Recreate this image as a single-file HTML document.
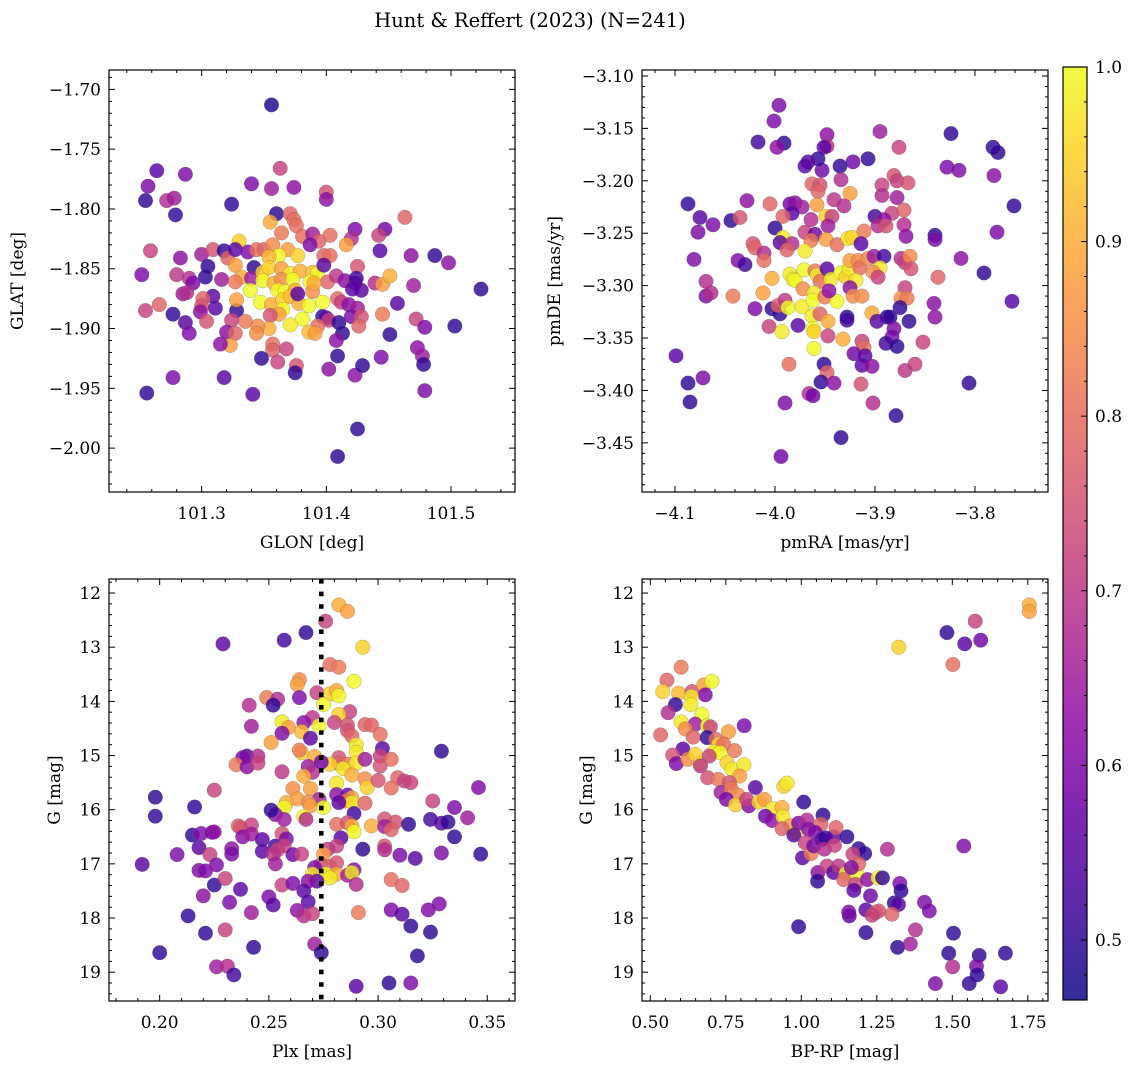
<!DOCTYPE html>
<html><head><meta charset="utf-8"><title>Hunt & Reffert (2023)</title>
<style>
html,body{margin:0;padding:0;background:#fff;}
svg{display:block;font-family:"DejaVu Serif","Liberation Serif",serif;}
</style></head>
<body>
<svg id="fig" width="1136" height="1067" viewBox="0 0 1136 1067" xmlns="http://www.w3.org/2000/svg">
<defs>
<linearGradient id="cbgrad" x1="0" y1="1" x2="0" y2="0"></linearGradient>
<clipPath id="clip1"><rect x="109" y="70" width="406" height="422"/></clipPath>
<clipPath id="clip2"><rect x="642" y="70" width="406" height="422"/></clipPath>
<clipPath id="clip3"><rect x="109" y="579" width="406" height="422"/></clipPath>
<clipPath id="clip4"><rect x="642" y="579" width="406" height="422"/></clipPath>
</defs>
<text x="530" y="27" text-anchor="middle" font-size="19.5">Hunt &amp; Reffert (2023) (N=241)</text>
</svg>
<script>
// ---------- data ----------
const p1Lon=[101.356,101.363,101.264,101.287,101.257,101.255,101.272,101.278,101.279,101.324,101.340,101.356,101.374,101.400,101.400,101.360,101.371,101.355,101.374,101.376,101.364,101.381,101.389,101.403,101.394,101.387,101.423,101.420,101.447,101.442,101.463,101.416,101.443,101.468,101.487,101.498,101.524,101.259,101.283,101.300,101.305,101.303,101.309,101.318,101.321,101.330,101.327,101.337,101.344,101.350,101.357,101.369,101.362,101.377,101.354,101.342,101.327,101.332,101.340,101.316,101.252,101.280,101.290,101.293,101.349,101.354,101.364,101.371,101.379,101.389,101.393,101.398,101.403,101.398,101.349,101.358,101.364,101.373,101.387,101.339,101.327,101.361,101.367,101.375,101.389,101.401,101.408,101.415,101.423,101.425,101.424,101.439,101.445,101.451,101.470,101.428,101.421,101.285,101.288,101.309,101.301,101.300,101.266,101.255,101.277,101.287,101.290,101.311,101.299,101.304,101.328,101.328,101.347,101.356,101.365,101.365,101.371,101.378,101.386,101.397,101.390,101.377,101.409,101.412,101.418,101.425,101.457,101.397,101.400,101.402,101.410,101.420,101.428,101.426,101.445,101.472,101.479,101.503,101.451,101.413,101.408,101.393,101.386,101.391,101.381,101.371,101.362,101.355,101.354,101.345,101.344,101.335,101.324,101.320,101.327,101.323,101.315,101.357,101.357,101.368,101.348,101.361,101.376,101.375,101.409,101.402,101.423,101.429,101.444,101.473,101.477,101.478,101.479,101.277,101.256,101.318,101.341,101.425,101.409];
const p1Lat=[-1.713,-1.766,-1.768,-1.771,-1.781,-1.793,-1.793,-1.791,-1.805,-1.796,-1.779,-1.783,-1.782,-1.786,-1.792,-1.804,-1.804,-1.811,-1.809,-1.814,-1.820,-1.823,-1.821,-1.822,-1.827,-1.830,-1.817,-1.825,-1.817,-1.822,-1.807,-1.830,-1.835,-1.839,-1.839,-1.845,-1.867,-1.835,-1.841,-1.838,-1.848,-1.857,-1.834,-1.835,-1.841,-1.827,-1.834,-1.836,-1.834,-1.834,-1.830,-1.834,-1.839,-1.839,-1.840,-1.849,-1.847,-1.857,-1.858,-1.859,-1.855,-1.855,-1.858,-1.862,-1.853,-1.849,-1.850,-1.854,-1.852,-1.853,-1.854,-1.839,-1.839,-1.847,-1.860,-1.862,-1.859,-1.859,-1.861,-1.868,-1.861,-1.868,-1.869,-1.868,-1.869,-1.861,-1.856,-1.860,-1.862,-1.848,-1.858,-1.862,-1.863,-1.856,-1.864,-1.868,-1.867,-1.871,-1.870,-1.873,-1.875,-1.881,-1.880,-1.885,-1.888,-1.895,-1.904,-1.883,-1.886,-1.894,-1.885,-1.876,-1.878,-1.880,-1.876,-1.884,-1.873,-1.879,-1.881,-1.878,-1.862,-1.871,-1.875,-1.878,-1.880,-1.883,-1.879,-1.890,-1.891,-1.893,-1.895,-1.890,-1.890,-1.898,-1.888,-1.892,-1.899,-1.898,-1.905,-1.904,-1.910,-1.898,-1.903,-1.904,-1.892,-1.897,-1.888,-1.889,-1.900,-1.898,-1.904,-1.894,-1.893,-1.903,-1.904,-1.914,-1.913,-1.913,-1.918,-1.917,-1.925,-1.928,-1.931,-1.937,-1.923,-1.934,-1.939,-1.931,-1.924,-1.916,-1.923,-1.930,-1.952,-1.941,-1.954,-1.941,-1.955,-1.984,-2.007];
const p1Prob=[0.48,0.72,0.55,0.6,0.6,0.5,0.68,0.65,0.5,0.5,0.6,0.65,0.62,0.75,0.62,0.5,0.78,0.9,0.8,0.8,0.82,0.8,0.65,0.8,0.78,0.6,0.6,0.68,0.58,0.72,0.78,0.88,0.55,0.62,0.5,0.62,0.5,0.72,0.62,0.65,0.5,0.5,0.75,0.5,0.78,0.95,0.55,0.6,0.8,0.78,0.85,0.88,1.0,0.95,0.92,0.5,0.88,0.9,0.65,0.65,0.6,0.7,0.68,0.6,0.95,0.95,0.88,0.98,0.9,0.92,1.0,0.78,0.8,0.55,1.0,0.9,0.85,1.0,1.0,1.0,0.82,1.0,1.0,0.9,0.85,0.78,0.7,0.62,0.65,0.75,0.52,0.68,0.88,0.9,0.65,0.55,0.55,0.65,0.68,0.55,0.78,0.75,0.78,0.72,0.5,0.55,0.6,0.55,0.62,0.75,0.5,0.88,1.0,0.9,0.95,1.0,0.92,0.9,1.0,1.0,0.9,0.55,0.78,0.72,0.62,0.65,0.55,0.5,0.55,0.72,0.5,0.6,0.75,0.78,0.82,0.72,0.6,0.5,0.5,0.5,0.62,0.8,0.92,0.88,1.0,0.98,0.88,0.75,0.9,0.85,0.85,0.82,0.72,0.62,0.78,0.88,0.62,0.8,0.78,0.72,0.5,0.72,0.75,0.5,0.5,0.62,0.62,0.5,0.6,0.62,0.65,0.5,0.6,0.6,0.5,0.55,0.55,0.5,0.5];

const p2PmRA=[-3.996,-4.001,-4.017,-3.991,-3.998,-3.948,-3.948,-3.951,-3.895,-3.824,-3.782,-3.777,-3.876,-3.907,-3.922,-3.935,-3.953,-3.957,-3.967,-3.970,-3.828,-3.816,-3.781,-3.761,-3.778,-4.087,-4.075,-4.077,-4.062,-4.044,-4.035,-4.028,-4.005,-3.985,-3.980,-3.973,-3.983,-3.963,-3.955,-3.957,-3.934,-3.925,-3.941,-3.931,-3.958,-3.949,-3.943,-3.964,-3.947,-3.992,-4.000,-3.992,-3.995,-3.983,-3.988,-3.970,-3.960,-3.964,-3.949,-3.938,-3.927,-3.923,-3.911,-3.914,-3.893,-3.893,-3.881,-3.878,-3.867,-3.878,-3.883,-3.871,-3.900,-3.891,-3.897,-3.889,-3.871,-3.869,-3.840,-3.840,-3.814,-3.791,-3.763,-3.837,-3.841,-3.840,-3.852,-3.860,-3.870,-3.806,-4.022,-4.020,-4.011,-4.011,-4.037,-4.030,-4.081,-4.069,-4.069,-4.064,-4.042,-4.012,-4.003,-4.020,-4.003,-3.995,-3.997,-3.990,-3.987,-3.973,-3.985,-3.982,-3.980,-3.971,-3.970,-3.960,-3.958,-3.948,-3.955,-3.944,-3.934,-3.929,-3.926,-3.925,-3.917,-3.915,-3.919,-3.907,-3.901,-3.891,-3.895,-3.902,-3.897,-3.874,-3.870,-3.865,-3.864,-3.870,-3.874,-3.868,-3.875,-3.903,-3.888,-3.885,-3.898,-3.866,-3.881,-3.883,-3.889,-3.878,-3.972,-3.961,-3.962,-3.950,-3.938,-3.946,-3.925,-3.922,-3.913,-3.928,-3.928,-3.963,-3.955,-3.947,-3.962,-3.961,-3.977,-4.006,-3.993,-3.947,-3.932,-3.961,-3.913,-3.911,-3.921,-3.910,-3.913,-3.903,-3.986,-3.951,-3.948,-3.954,-3.941,-3.914,-3.966,-3.962,-3.990,-3.902,-3.879,-3.934,-3.994,-4.099,-4.087,-4.072,-4.085];
const p2PmDE=[-3.128,-3.143,-3.163,-3.164,-3.168,-3.156,-3.167,-3.168,-3.153,-3.155,-3.168,-3.173,-3.168,-3.179,-3.182,-3.186,-3.190,-3.179,-3.182,-3.186,-3.187,-3.190,-3.195,-3.224,-3.249,-3.222,-3.235,-3.249,-3.242,-3.238,-3.235,-3.219,-3.222,-3.222,-3.221,-3.225,-3.231,-3.203,-3.204,-3.210,-3.199,-3.212,-3.218,-3.224,-3.223,-3.234,-3.234,-3.237,-3.243,-3.234,-3.245,-3.254,-3.259,-3.260,-3.266,-3.249,-3.251,-3.257,-3.256,-3.261,-3.255,-3.254,-3.248,-3.260,-3.204,-3.214,-3.195,-3.200,-3.202,-3.216,-3.231,-3.228,-3.234,-3.237,-3.243,-3.243,-3.242,-3.253,-3.252,-3.256,-3.274,-3.288,-3.315,-3.292,-3.317,-3.330,-3.354,-3.375,-3.381,-3.393,-3.260,-3.264,-3.269,-3.276,-3.276,-3.280,-3.275,-3.296,-3.310,-3.307,-3.310,-3.307,-3.293,-3.322,-3.322,-3.327,-3.319,-3.314,-3.321,-3.320,-3.289,-3.294,-3.295,-3.285,-3.267,-3.286,-3.290,-3.284,-3.296,-3.294,-3.288,-3.292,-3.284,-3.276,-3.276,-3.283,-3.295,-3.274,-3.272,-3.272,-3.283,-3.287,-3.292,-3.274,-3.278,-3.272,-3.284,-3.302,-3.312,-3.312,-3.321,-3.326,-3.330,-3.330,-3.334,-3.334,-3.341,-3.349,-3.355,-3.358,-3.303,-3.307,-3.314,-3.311,-3.315,-3.305,-3.302,-3.310,-3.310,-3.330,-3.333,-3.329,-3.327,-3.334,-3.341,-3.344,-3.338,-3.339,-3.344,-3.348,-3.351,-3.360,-3.353,-3.359,-3.365,-3.367,-3.376,-3.377,-3.375,-3.375,-3.383,-3.392,-3.393,-3.394,-3.403,-3.405,-3.412,-3.412,-3.424,-3.445,-3.463,-3.367,-3.393,-3.388,-3.411];
const p2Prob=[0.6,0.6,0.52,0.5,0.62,0.62,0.68,0.55,0.65,0.5,0.5,0.5,0.72,0.5,0.58,0.5,0.58,0.5,0.55,0.55,0.6,0.6,0.62,0.5,0.6,0.5,0.55,0.6,0.6,0.5,0.75,0.62,0.78,0.58,0.62,0.65,0.55,0.78,0.75,0.78,0.68,0.88,0.7,0.68,0.88,0.95,0.72,0.68,0.65,0.78,0.5,0.98,0.55,0.68,0.78,0.72,0.58,0.82,0.88,0.8,0.98,0.95,0.82,0.55,0.72,0.68,0.75,0.72,0.75,0.65,0.72,0.78,0.52,0.62,0.68,0.75,0.68,0.62,0.5,0.6,0.62,0.5,0.55,0.78,0.62,0.62,0.72,0.72,0.7,0.5,0.75,0.78,0.68,0.8,0.6,0.52,0.6,0.68,0.6,0.68,0.82,0.88,0.9,0.6,0.5,0.5,0.78,0.7,1.0,0.98,0.98,0.98,1.0,1.0,0.98,0.82,0.98,0.55,0.8,0.98,1.0,0.95,0.98,0.88,0.85,0.8,0.98,0.85,0.65,0.52,0.98,0.85,0.72,0.68,0.72,0.85,0.75,0.72,0.85,0.82,0.5,0.9,0.5,0.5,0.55,0.5,0.6,0.6,0.52,0.5,0.85,0.98,1.0,0.82,1.0,0.62,0.62,0.85,0.85,0.5,0.52,0.98,0.78,0.9,1.0,0.95,0.55,0.72,0.98,0.72,0.9,1.0,0.72,0.8,0.58,0.55,0.55,0.62,0.8,0.5,0.78,0.5,0.62,0.75,0.68,0.58,0.6,0.68,0.5,0.5,0.58,0.55,0.5,0.6,0.5];

const p3Plx=[0.282,0.286,0.276,0.267,0.257,0.229,0.293,0.278,0.282,0.264,0.263,0.289,0.272,0.278,0.281,0.282,0.264,0.249,0.254,0.252,0.241,0.275,0.287,0.282,0.270,0.266,0.280,0.256,0.259,0.273,0.242,0.256,0.265,0.269,0.286,0.286,0.294,0.297,0.288,0.301,0.251,0.290,0.302,0.265,0.264,0.271,0.290,0.282,0.282,0.286,0.290,0.278,0.284,0.288,0.294,0.301,0.301,0.306,0.268,0.270,0.266,0.274,0.240,0.245,0.238,0.235,0.240,0.245,0.256,0.329,0.294,0.295,0.300,0.309,0.312,0.315,0.306,0.281,0.261,0.269,0.281,0.286,0.288,0.285,0.288,0.294,0.282,0.273,0.263,0.268,0.269,0.275,0.258,0.257,0.253,0.251,0.257,0.266,0.267,0.289,0.281,0.286,0.288,0.289,0.297,0.303,0.308,0.303,0.306,0.314,0.324,0.325,0.335,0.341,0.346,0.329,0.332,0.335,0.347,0.329,0.317,0.310,0.303,0.303,0.293,0.283,0.281,0.277,0.275,0.274,0.278,0.281,0.281,0.276,0.278,0.271,0.270,0.272,0.268,0.266,0.286,0.289,0.288,0.290,0.306,0.311,0.198,0.198,0.216,0.225,0.215,0.219,0.224,0.225,0.236,0.237,0.242,0.238,0.242,0.247,0.247,0.253,0.256,0.258,0.257,0.254,0.252,0.253,0.261,0.265,0.208,0.218,0.223,0.226,0.233,0.233,0.192,0.218,0.221,0.225,0.230,0.237,0.220,0.232,0.242,0.250,0.252,0.256,0.261,0.263,0.266,0.268,0.270,0.213,0.221,0.230,0.200,0.243,0.271,0.274,0.226,0.231,0.234,0.291,0.306,0.311,0.315,0.323,0.328,0.324,0.318,0.290,0.305,0.315];
const p3G=[12.22,12.34,12.52,12.73,12.87,12.94,13.00,13.32,13.37,13.60,13.69,13.63,13.84,13.86,13.80,13.90,13.93,13.93,13.96,14.07,14.07,14.06,14.19,14.24,14.30,14.39,14.39,14.38,14.48,14.45,14.46,14.59,14.56,14.68,14.44,14.54,14.43,14.44,14.64,14.61,14.76,14.80,14.87,14.95,14.90,15.02,14.94,15.04,15.15,15.16,15.14,15.16,15.24,15.36,15.07,15.01,15.19,15.07,15.20,15.31,15.38,15.12,15.01,15.01,15.04,15.17,15.21,15.14,15.30,14.92,15.43,15.59,15.46,15.41,15.47,15.50,15.60,15.51,15.61,15.61,15.72,15.73,15.78,15.84,15.87,15.88,15.87,15.81,15.80,15.86,15.93,15.96,15.87,15.96,16.09,16.01,16.18,16.13,16.18,16.07,16.27,16.24,16.30,16.41,16.30,16.17,16.23,16.31,16.37,16.27,16.18,15.84,15.96,16.15,15.59,16.25,16.23,16.50,16.82,16.80,16.90,16.84,16.67,16.74,16.73,16.52,16.67,16.73,16.82,17.01,17.05,16.98,17.19,17.19,17.26,17.07,17.19,17.32,17.32,17.50,17.21,17.11,17.16,17.38,17.29,17.40,15.77,16.12,15.95,15.64,16.47,16.44,16.42,16.41,16.30,16.33,16.28,16.50,16.45,16.55,16.77,16.67,16.44,16.54,16.67,16.74,16.82,17.00,16.83,16.82,16.83,16.70,16.83,17.02,16.72,16.82,17.01,17.12,17.13,17.39,17.27,17.47,17.59,17.71,17.90,17.61,17.76,17.39,17.36,17.86,17.96,17.70,17.92,17.96,18.28,18.22,18.64,18.54,18.48,18.64,18.90,18.89,19.05,17.90,17.85,17.93,18.15,17.85,17.74,18.26,18.70,19.26,19.20,19.20];
const p3Prob=[0.9,0.88,0.72,0.5,0.52,0.55,0.95,0.8,0.82,0.85,0.88,1.0,0.72,0.95,0.9,1.0,0.6,0.82,0.68,0.5,0.68,1.0,0.72,0.95,0.7,0.62,0.72,0.98,0.88,1.0,0.65,0.6,0.92,0.55,0.75,0.75,0.78,0.78,0.78,0.8,0.88,0.98,0.55,0.95,0.82,0.9,0.98,0.75,0.78,0.82,0.98,0.95,0.98,0.9,0.65,0.72,0.75,0.8,0.65,0.68,0.9,0.58,0.55,0.68,0.6,0.82,0.62,0.72,0.7,0.5,0.85,0.95,0.75,0.78,0.72,0.72,0.8,0.98,0.85,0.88,0.62,0.58,0.9,0.82,0.98,0.78,0.55,0.65,0.88,0.85,0.88,1.0,0.9,1.0,0.62,0.5,0.65,1.0,0.68,0.52,0.8,0.75,0.9,1.0,0.9,0.75,0.75,0.65,0.78,0.5,0.52,0.72,0.6,0.65,0.6,0.55,0.5,0.5,0.5,0.6,0.55,0.6,0.75,0.68,0.5,0.55,0.72,0.7,0.88,0.75,0.78,0.75,0.9,1.0,0.98,0.6,0.98,0.55,0.62,0.55,0.65,0.6,0.98,0.68,0.8,0.78,0.5,0.5,0.5,0.72,0.5,0.6,0.6,0.62,0.78,0.75,0.72,0.62,0.65,0.55,0.55,0.52,0.75,0.6,0.72,0.72,0.7,0.65,0.58,0.72,0.6,0.55,0.72,0.6,0.62,0.6,0.55,0.6,0.6,0.5,0.72,0.55,0.62,0.6,0.65,0.6,0.55,0.72,0.6,0.62,0.68,0.55,0.72,0.5,0.5,0.72,0.5,0.5,0.65,0.5,0.65,0.68,0.52,0.82,0.6,0.55,0.5,0.6,0.6,0.5,0.5,0.55,0.5,0.6];

const p4BpRp=[1.755,1.755,1.576,1.482,1.541,1.594,1.323,1.502,1.538,0.602,0.555,0.541,0.594,0.638,0.677,0.704,0.682,0.636,0.634,0.583,0.559,0.671,0.602,0.649,0.689,0.616,0.699,0.534,0.642,0.688,0.759,0.811,0.717,0.726,0.743,0.779,0.710,0.731,0.608,0.574,0.586,0.624,0.649,0.666,0.666,0.695,0.754,0.770,0.810,0.796,0.690,0.725,0.762,0.734,0.768,0.790,0.752,0.782,0.826,0.819,0.848,0.859,0.878,0.905,0.936,0.942,0.953,1.008,0.881,0.903,0.939,0.964,0.936,0.980,0.975,0.991,1.019,1.072,1.065,1.024,1.046,1.068,1.080,1.107,1.115,1.151,1.013,1.004,1.032,1.041,1.076,1.110,1.055,1.085,1.054,1.107,1.124,1.148,1.184,1.140,1.190,1.210,1.171,1.190,1.166,1.179,1.174,1.219,1.254,1.269,1.285,1.229,1.326,1.330,1.308,1.322,1.300,1.214,1.245,1.256,1.234,1.159,1.157,1.214,0.991,1.319,1.361,1.378,1.408,1.424,1.504,1.488,1.501,1.589,1.580,1.582,1.676,1.444,1.556,1.660];
const p4G=[12.22,12.34,12.52,12.73,12.94,12.87,13.00,13.32,16.67,13.37,13.61,13.82,13.85,13.82,13.70,13.63,13.88,13.91,14.06,14.06,14.21,14.24,14.38,14.42,14.45,14.51,14.47,14.62,14.66,14.67,14.56,14.45,14.70,14.79,14.79,14.91,14.93,14.95,14.88,14.99,15.15,15.07,14.98,15.15,15.19,15.01,15.13,15.25,15.17,15.38,15.41,15.44,15.50,15.68,15.61,15.73,15.81,15.91,15.93,15.81,15.59,15.86,15.81,15.98,15.96,15.57,15.51,15.86,16.12,16.20,16.13,16.30,16.35,16.42,16.47,16.25,16.19,16.10,16.27,16.36,16.42,16.55,16.52,16.50,16.33,16.50,16.61,16.89,16.81,16.67,16.73,16.66,17.16,17.04,17.32,17.16,17.04,17.18,17.19,17.29,16.72,16.81,16.82,17.00,17.07,17.38,17.49,17.29,17.26,17.26,16.73,17.59,17.36,17.50,17.72,17.75,17.93,17.85,17.90,17.87,17.95,17.96,17.89,18.27,18.16,18.54,18.48,18.22,17.71,17.87,18.28,18.65,18.90,18.69,18.89,19.05,18.65,19.21,19.21,19.27];
const p4Prob=[0.9,0.88,0.72,0.5,0.55,0.58,0.95,0.8,0.6,0.82,0.78,0.95,0.92,0.75,0.88,1.0,0.6,0.98,0.98,0.5,0.68,1.0,0.98,0.65,1.0,0.85,0.72,0.78,0.78,0.5,0.88,0.6,0.8,0.95,0.8,0.82,0.98,1.0,0.55,0.75,0.6,0.85,0.95,0.98,0.7,0.72,0.95,0.98,0.98,0.88,0.75,0.82,0.75,0.65,0.82,0.85,0.6,0.95,0.6,0.72,0.55,0.95,0.88,0.98,0.9,0.95,0.98,0.5,0.58,0.62,0.98,0.88,0.78,0.98,0.55,0.6,0.68,0.5,0.78,0.62,0.6,0.55,0.5,0.55,0.78,0.5,0.72,0.55,0.82,0.6,0.68,0.72,0.62,0.72,0.5,0.55,0.7,0.98,1.0,0.78,0.5,0.5,0.72,0.78,0.6,0.72,0.55,0.62,1.0,0.5,0.68,0.58,0.6,0.5,0.5,0.55,0.78,0.55,0.78,0.75,0.72,0.55,0.6,0.5,0.5,0.5,0.65,0.68,0.6,0.6,0.5,0.5,0.68,0.5,0.6,0.5,0.5,0.6,0.5,0.55];

// tick labels
const p1XTicks=[101.3,101.4,101.5];
const p1YTicks=[-1.70,-1.75,-1.80,-1.85,-1.90,-1.95,-2.00];
const p2XTicks=[-4.1,-4.0,-3.9,-3.8];
const p2YTicks=[-3.10,-3.15,-3.20,-3.25,-3.30,-3.35,-3.40,-3.45];
const p3XTicks=[0.20,0.25,0.30,0.35];
const gTicks=[12,13,14,15,16,17,18,19];
const p4XTicks=[0.50,0.75,1.00,1.25,1.50,1.75];
const cbTicks=[0.5,0.6,0.7,0.8,0.9,1.0];
const plxRef=[0.274];

// ---------- rendering ----------
const NS="http://www.w3.org/2000/svg";
const svg=document.getElementById('fig');
const VMIN=0.4656,VMAX=1.0;
const plasma=["#0d0887","#41049d","#6a00a8","#8f0da4","#b12a90","#cc4778","#e16462","#f2844b","#fca636","#fcce25","#f0f921"];
function hex2rgb(h){return [parseInt(h.substr(1,2),16),parseInt(h.substr(3,2),16),parseInt(h.substr(5,2),16)];}
function cmap(t){t=Math.max(0,Math.min(1,t));const f=t*10;const i=Math.min(9,Math.floor(f));const u=f-i;
 const a=hex2rgb(plasma[i]),b=hex2rgb(plasma[i+1]);
 return 'rgb('+a.map((v,k)=>Math.round(v+(b[k]-v)*u)).join(',')+')';}
function colorOf(p){return cmap((p-VMIN)/(VMAX-VMIN));}
function mk(tag,attrs,parent){const e=document.createElementNS(NS,tag);for(const k in attrs)e.setAttribute(k,attrs[k]);(parent||svg).appendChild(e);return e;}
function fmt(v,d){const s=Math.abs(v).toFixed(d);return (v<0?'\u2212':'')+s;}
const TF=17, LF=17;

function panel(cfg){
 const g=mk('g',{});
 
 
 const {x0,y0,x1,y1,xmin,xmax,ytop,ybot}=cfg;
 const sx=v=>x0+(v-xmin)/(xmax-xmin)*(x1-x0);
 const sy=v=>y0+(v-ytop)/(ybot-ytop)*(y1-y0);
 const pts=mk('g',{'clip-path':'url(#'+cfg.clip+')'},g);
 
 
 for(let i=0;i<cfg.xs.length;i++){
  const c=mk('circle',{cx:sx(cfg.xs[i]).toFixed(1),cy:sy(cfg.ys[i]).toFixed(1),r:7.3,fill:colorOf(cfg.cs[i]),'fill-opacity':0.82,stroke:'#555','stroke-opacity':0.45,'stroke-width':0.5},pts);
  
  
 }
 if(cfg.vline){for(const v of cfg.vline){
  const l=mk('line',{x1:sx(v),x2:sx(v),y1:y0,y2:y1,stroke:'#000','stroke-width':4.6,'stroke-dasharray':'4.6 8'},g);
  
  
 }}
 const fr=mk('rect',{x:x0,y:y0,width:x1-x0,height:y1-y0,fill:'none',stroke:'#000','stroke-width':1.2},g);
 
 
 const tg=mk('g',{stroke:'#000','stroke-width':1},g);
 const lo=Math.min(xmin,xmax),hi=Math.max(xmin,xmax);
 for(let v=Math.ceil(lo/cfg.xminor-1e-6)*cfg.xminor;v<=hi+1e-9;v+=cfg.xminor){
  const X=sx(v);const major=cfg.xticks.some(t=>Math.abs(t-v)<cfg.xminor/10);const L=major?6:3;
  mk('line',{x1:X,x2:X,y1:y1,y2:y1-L},tg);mk('line',{x1:X,x2:X,y1:y0,y2:y0+L},tg);}
 const ylo=Math.min(ytop,ybot),yhi=Math.max(ytop,ybot);
 for(let v=Math.ceil(ylo/cfg.yminor-1e-6)*cfg.yminor;v<=yhi+1e-9;v+=cfg.yminor){
  const Y=sy(v);const major=cfg.yticks.some(t=>Math.abs(t-v)<cfg.yminor/10);const L=major?6:3;
  mk('line',{x1:x0,x2:x0+L,y1:Y,y2:Y},tg);mk('line',{x1:x1,x2:x1-L,y1:Y,y2:Y},tg);}
 for(const t of cfg.xticks){const e=mk('text',{x:sx(t),y:y1+27,'text-anchor':'middle','font-size':TF},g);e.textContent=fmt(t,cfg.xd);
  
  }
 for(const t of cfg.yticks){const e=mk('text',{x:x0-8,y:sy(t)+6,'text-anchor':'end','font-size':TF},g);e.textContent=fmt(t,cfg.yd);
  
  }
 const xl=mk('text',{x:(x0+x1)/2,y:y1+56,'text-anchor':'middle','font-size':LF},g);xl.textContent=cfg.xlabel;
 
 
 const yx=cfg.ylx,yy=(y0+y1)/2;
 const yl=mk('text',{x:yx,y:yy,'text-anchor':'middle','font-size':LF,transform:'rotate(-90 '+yx+' '+yy+')'},g);yl.textContent=cfg.ylabel;
 
 
}

panel({name:'glon-glat-panel',clip:'clip1',x0:109,y0:70,x1:515,y1:492,xmin:101.2257,xmax:101.5513,ytop:-1.6838,ybot:-2.0367,
 xs:p1Lon,ys:p1Lat,cs:p1Prob,xticks:p1XTicks,yticks:p1YTicks,xminor:0.02,yminor:0.01,xd:1,yd:2,xlabel:'GLON [deg]',ylabel:'GLAT [deg]',ylx:23});
panel({name:'proper-motion-panel',clip:'clip2',x0:642,y0:70,x1:1048,y1:492,xmin:-4.133,xmax:-3.727,ytop:-3.0943,ybot:-3.4969,
 xs:p2PmRA,ys:p2PmDE,cs:p2Prob,xticks:p2XTicks,yticks:p2YTicks,xminor:0.02,yminor:0.01,xd:1,yd:2,xlabel:'pmRA [mas/yr]',ylabel:'pmDE [mas/yr]',ylx:560});
panel({name:'parallax-magnitude-panel',clip:'clip3',x0:109,y0:579,x1:515,y1:1001,xmin:0.1768,xmax:0.3627,ytop:11.741,ybot:19.532,
 xs:p3Plx,ys:p3G,cs:p3Prob,xticks:p3XTicks,yticks:gTicks,xminor:0.01,yminor:0.2,xd:2,yd:0,xlabel:'Plx [mas]',ylabel:'G [mag]',ylx:60,vline:plxRef});
panel({name:'color-magnitude-panel',clip:'clip4',x0:642,y0:579,x1:1048,y1:1001,xmin:0.4725,xmax:1.8169,ytop:11.741,ybot:19.532,
 xs:p4BpRp,ys:p4G,cs:p4Prob,xticks:p4XTicks,yticks:gTicks,xminor:0.05,yminor:0.2,xd:2,yd:0,xlabel:'BP-RP [mag]',ylabel:'G [mag]',ylx:592});

(function(){
 const grad=document.getElementById('cbgrad');
 for(let i=0;i<=20;i++){const t=i/20;mk('stop',{offset:t,'stop-color':cmap(t)},grad);}
 const cx0=1063,cx1=1087,cy0=67,cy1=1000;
 const cy=v=>cy1-(v-VMIN)/(VMAX-VMIN)*(cy1-cy0);
 const g=mk('g',{});
 
 
 mk('rect',{x:cx0,y:cy0,width:cx1-cx0,height:cy1-cy0,fill:'url(#cbgrad)','fill-opacity':0.85},g);
 mk('rect',{x:cx0,y:cy0,width:cx1-cx0,height:cy1-cy0,fill:'none',stroke:'#000','stroke-width':1.2},g);
 for(let v=0.48;v<=1.0001;v+=0.02){const Y=cy(v);const major=cbTicks.some(t=>Math.abs(t-v)<0.002);
  mk('line',{x1:cx1,x2:cx1-(major?6:3),y1:Y,y2:Y,stroke:'#000','stroke-width':1},g);}
 for(const t of cbTicks){const e=mk('text',{x:cx1+8,y:cy(t)+6,'font-size':TF},g);e.textContent=t.toFixed(1);
  
  }
})();
</script>
</body></html>
